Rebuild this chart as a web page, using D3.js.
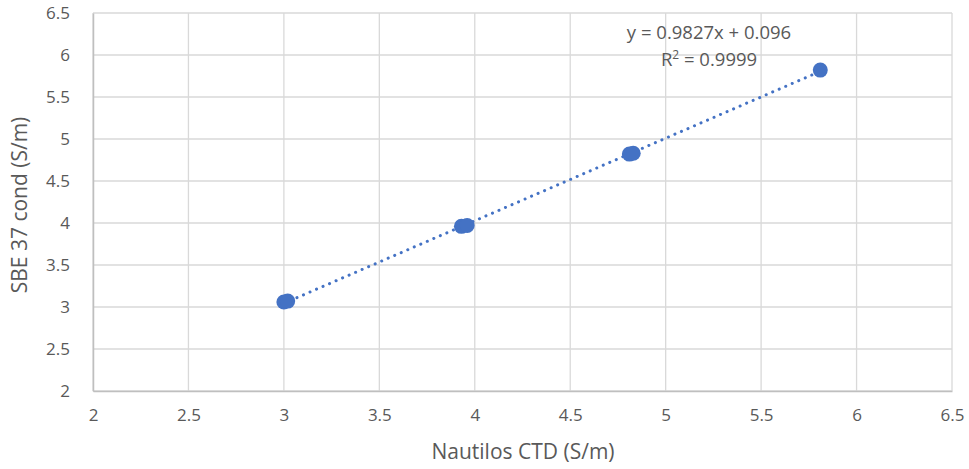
<!DOCTYPE html>
<html>
<head>
<meta charset="UTF-8">
<script src="https://cdn.jsdelivr.net/npm/d3@7"></script>
<style>
  body { margin: 0; background: #fff; }
  text { font-family: "Open Sans", "Liberation Sans", Arial, sans-serif; fill: #595959; }
</style>
</head>
<body>
<svg width="969" height="469"></svg>
<script>
// data
var nautilus = [3.00, 3.02, 3.93, 3.96, 4.81, 4.83, 5.81];
var sbe37    = [3.06, 3.07, 3.96, 3.97, 4.82, 4.83, 5.82];
var xTicks = [2, 2.5, 3, 3.5, 4, 4.5, 5, 5.5, 6, 6.5];
var yTicks = [2, 2.5, 3, 3.5, 4, 4.5, 5, 5.5, 6, 6.5];
var slope = 0.9827, intercept = 0.096;

var svg = d3.select("svg"),
  margin = {top: 13, right: 17, bottom: 78, left: 93},
  width = 969 - margin.left - margin.right,
  height = 469 - margin.top - margin.bottom,
  g = svg.append("g").attr("transform", "translate(" + margin.left + "," + margin.top + ")");

var x = d3.scaleLinear().domain([2, 6.5]).range([0, width]);
var y = d3.scaleLinear().domain([2, 6.5]).range([height, 0]);

// grid
g.append("g").selectAll("line").data(yTicks).enter().append("line")
  .attr("x1", 0).attr("x2", width)
  .attr("y1", function(d) { return y(d); }).attr("y2", function(d) { return y(d); })
  .attr("stroke", "#d9d9d9").attr("stroke-width", 1.3);
g.append("g").selectAll("line").data(xTicks).enter().append("line")
  .attr("y1", 0).attr("y2", height)
  .attr("x1", function(d) { return x(d); }).attr("x2", function(d) { return x(d); })
  .attr("stroke", "#d9d9d9").attr("stroke-width", 1.3);

// axes
var xAxis = g.append("g").attr("transform", "translate(0," + height + ")")
  .call(d3.axisBottom(x).tickValues(xTicks).tickSize(0).tickPadding(18).tickFormat(d3.format("")));
var yAxis = g.append("g")
  .call(d3.axisLeft(y).tickValues(yTicks).tickSize(0).tickPadding(23).tickFormat(d3.format("")));
xAxis.select(".domain").attr("stroke", "#bfbfbf").attr("stroke-width", 1.5);
yAxis.select(".domain").attr("stroke", "#bfbfbf").attr("stroke-width", 1.5);
svg.selectAll(".tick text").attr("font-size", 17).attr("fill", "#595959")
  .style("font-family", "Open Sans, Liberation Sans, Arial, sans-serif");

// trend line
var x0 = d3.min(nautilus), x1 = d3.max(nautilus);
g.append("line")
  .attr("x1", x(x0)).attr("y1", y(slope * x0 + intercept))
  .attr("x2", x(x1)).attr("y2", y(slope * x1 + intercept))
  .attr("stroke", "#4472c4").attr("stroke-width", 3)
  .attr("stroke-linecap", "round").attr("stroke-dasharray", "0.1 7");

// points
g.selectAll("circle").data(nautilus).enter().append("circle")
  .attr("cx", function(d) { return x(d); })
  .attr("cy", function(d, i) { return y(sbe37[i]); })
  .attr("r", 7.5)
  .attr("fill", "#4472c4");

// equation
svg.append("text").attr("x", 709).attr("y", 39).attr("text-anchor", "middle")
  .attr("font-size", 18.5).text("y = 0.9827x + 0.096");
var r2 = svg.append("text").attr("x", 709).attr("y", 66).attr("text-anchor", "middle")
  .attr("font-size", 18.5);
r2.append("tspan").text("R");
r2.append("tspan").attr("font-size", 12).attr("dy", -7).text("2");
r2.append("tspan").attr("dy", 7).text(" = 0.9999");

// axis titles
svg.append("text").attr("x", 523).attr("y", 459)
  .attr("text-anchor", "middle").attr("font-size", 21).text("Nautilos CTD (S/m)");
svg.append("text").attr("transform", "translate(27,205) rotate(-90)")
  .attr("text-anchor", "middle").attr("font-size", 21).text("SBE 37 cond (S/m)");
</script>
</body>
</html>
